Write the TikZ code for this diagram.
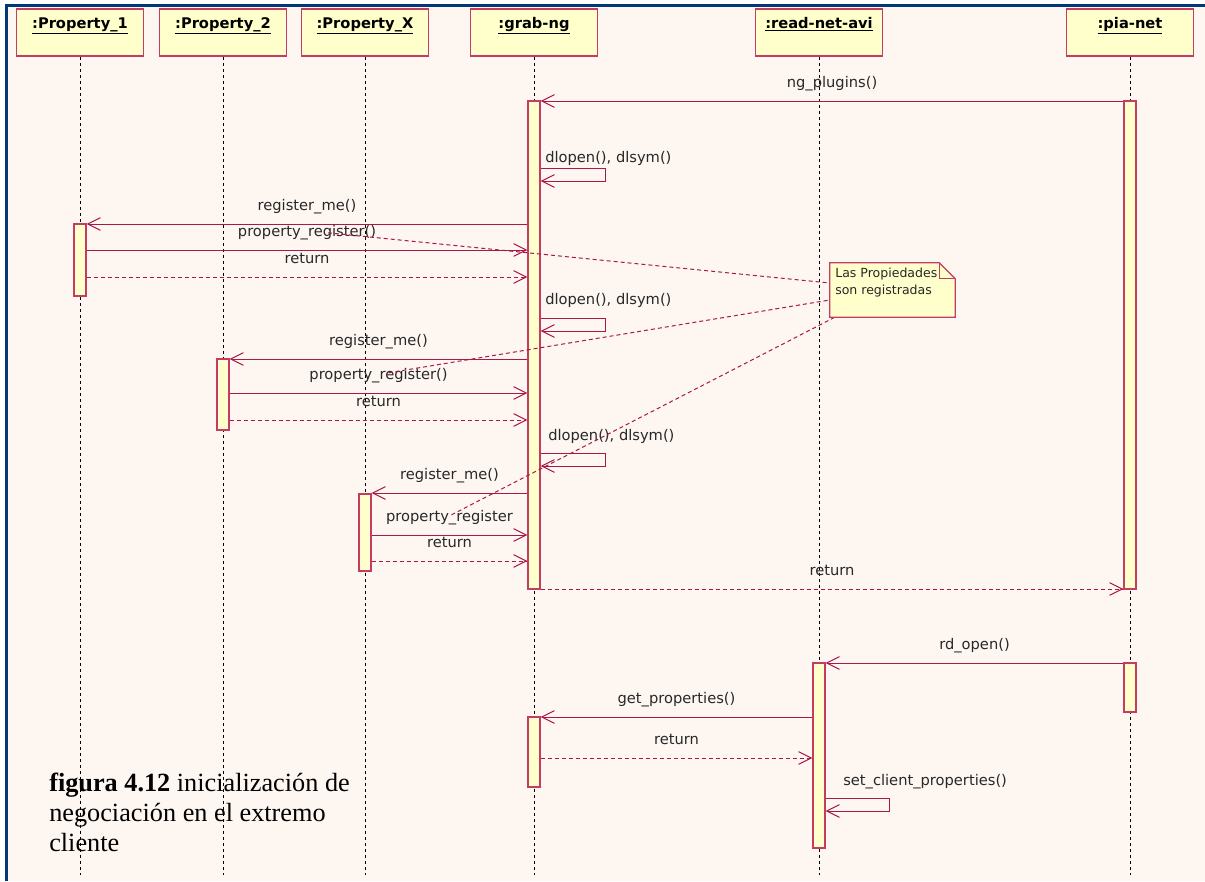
\documentclass[tikz,border=0pt]{standalone}
\usepackage{fontspec}
\setmainfont{Liberation Serif}
\newfontfamily\umlfont{DejaVu Sans}
\usetikzlibrary{arrows.meta,calc}
\definecolor{bgc}{RGB}{253,246,241}
\definecolor{framec}{RGB}{0,56,120}
\definecolor{boxc}{RGB}{196,60,100}
\definecolor{msgc}{RGB}{168,24,74}
\definecolor{fillc}{RGB}{255,255,204}
\definecolor{txtc}{RGB}{40,40,40}
\begin{document}
\begin{tikzpicture}[x=0.75pt,y=-0.75pt,
  head/.style={draw=boxc, fill=fillc, line width=1.1pt, minimum width=95.25pt,
    inner xsep=0pt, inner ysep=0pt, text height=14.5pt, text depth=20.75pt,
    font=\umlfont\bfseries\fontsize{11}{12}\selectfont},
  lifeline/.style={draw=black, line width=0.75pt, dash pattern=on 2.25pt off 2.25pt},
  actbar/.style={draw=boxc, fill=fillc, line width=1pt, minimum width=9pt, inner sep=0pt},
  tip/.style={-{Straight Barb[length=9.5pt,width=9.5pt]}},
  call/.style={draw=msgc, line width=0.75pt, tip},
  reply/.style={call, dash pattern=on 3pt off 2.25pt},
  mlabel/.style={font=\umlfont\fontsize{11}{12}\selectfont, text=txtc, anchor=base,
    inner sep=0pt, yshift=10pt},
  slabel/.style={font=\umlfont\fontsize{11}{12}\selectfont, text=txtc, anchor=base west,
    inner sep=0pt},
  anchorline/.style={draw=msgc, line width=0.75pt, dash pattern=on 3pt off 2.25pt},
  notebox/.style={draw=boxc, fill=fillc, line width=1pt},
  notetext/.style={font=\umlfont\fontsize{9.4}{12.75}\selectfont, text=txtc, align=left,
    inner sep=0pt, anchor=north west}
]
\useasboundingbox (0,0) rectangle (1205,881);
% canvas and frame
\fill[white] (0,0) rectangle (1205,881);
\fill[bgc] (6,6) rectangle (1205,881);
\draw[framec, line width=2.25pt] (6,881) -- (6,6) -- (1205,6);

% object heads
\node[head] (p1)  at (80,32.5)   {\underline{:Property\_1}};
\node[head] (p2)  at (223,32.5)  {\underline{:Property\_2}};
\node[head] (px)  at (365,32.5)  {\underline{:Property\_X}};
\node[head] (gng) at (534,32.5)  {\underline{:grab-ng}};
\node[head] (rna) at (819,32.5)  {\underline{:read-net-avi}};
\node[head] (pia) at (1130,32.5) {\underline{:pia-net}};

% lifelines
\foreach \h in {p1,p2,px,gng,rna,pia}
  \draw[lifeline] (\h.south) -- (\h.south |- 0,875);

% activation bars
\node[actbar, minimum height=366pt]    (bgA)   at (534,345)   {};
\node[actbar, minimum height=366pt]    (bpiaA) at (1130,345)  {};
\node[actbar, minimum height=54pt]     (bp1)   at (80,260)    {};
\node[actbar, minimum height=53.25pt]  (bp2)   at (223,394.5) {};
\node[actbar, minimum height=57.75pt]  (bpx)   at (365,532.5) {};
\node[actbar, minimum height=138.75pt] (brna)  at (819,755.5) {};
\node[actbar, minimum height=36.75pt]  (bpiaB) at (1130,687.5) {};
\node[actbar, minimum height=52.5pt]   (bgB)   at (534,752)   {};

% plugin loading
\draw[call] (bpiaA.west |- 0,101) -- node[mlabel] (lng) {ng\_plugins()} (bgA.east |- 0,101);
\draw[call] (bgA.east |- 0,168) -- ++(65,0) -- ++(0,13) -- (bgA.east |- 0,181);
\node[slabel] (ldl1) at (545,162) {dlopen(), dlsym()};

% Property_1
\draw[call] (bgA.west |- 0,224) -- node[mlabel] (lrm1) {register\_me()} (bp1.east |- 0,224);
\draw[call] (bp1.east |- 0,250) -- node[mlabel] (lpr1) {property\_register()} (bgA.west |- 0,250);
\draw[reply] (bp1.east |- 0,277) -- node[mlabel] (lrt1) {return} (bgA.west |- 0,277);

% Property_2
\draw[call] (bgA.east |- 0,318) -- ++(65,0) -- ++(0,13) -- (bgA.east |- 0,331);
\node[slabel] (ldl2) at (545,304) {dlopen(), dlsym()};
\draw[call] (bgA.west |- 0,359) -- node[mlabel] (lrm2) {register\_me()} (bp2.east |- 0,359);
\draw[call] (bp2.east |- 0,393) -- node[mlabel] (lpr2) {property\_register()} (bgA.west |- 0,393);
\draw[reply] (bp2.east |- 0,420) -- node[mlabel] (lrt2) {return} (bgA.west |- 0,420);

% Property_X
\draw[call] (bgA.east |- 0,453) -- ++(65,0) -- ++(0,13) -- (bgA.east |- 0,466);
\node[slabel] (ldl3) at (548,440) {dlopen(), dlsym()};
\draw[call] (bgA.west |- 0,493) -- node[mlabel] (lrmx) {register\_me()} (bpx.east |- 0,493);
\draw[call] (bpx.east |- 0,535) -- node[mlabel] (lprx) {property\_register} (bgA.west |- 0,535);
\draw[reply] (bpx.east |- 0,561) -- node[mlabel] (lrtx) {return} (bgA.west |- 0,561);

% back to pia-net
\draw[reply] (bgA.east |- 0,589) -- node[mlabel] (lrtg) {return} (bpiaA.west |- 0,589);

% reader opening
\draw[call] (bpiaB.west |- 0,663) -- node[mlabel] (lrd) {rd\_open()} (brna.east |- 0,663);
\draw[call] (brna.west |- 0,717) -- node[mlabel] (lgp) {get\_properties()} (bgB.east |- 0,717);
\draw[reply] (bgB.east |- 0,758) -- node[mlabel] (lrtr) {return} (brna.west |- 0,758);
\draw[call] (brna.east |- 0,798) -- ++(64,0) -- ++(0,13) -- (brna.east |- 0,811);
\node[slabel] (lscp) at (843,785) {set\_client\_properties()};

% note and its anchors
\node[minimum width=93.75pt, minimum height=40.5pt, inner sep=0pt] (note) at (892.5,290) {};
\draw[anchorline] ($(lpr1.center)+(21,0)$) -- ($(note.west)+(0,-7)$);
\draw[anchorline] ($(lpr2.center)+(10,-3)$) -- ($(note.west)+(0,10)$);
\draw[anchorline] ($(lprx.center)+(2,-3)$) -- ($(note.south west)+(5,0)$);
\draw[notebox] (note.north west) -- ([xshift=-12pt]note.north east)
  -- ([yshift=-12pt]note.north east) -- (note.south east) -- (note.south west) -- cycle;
\draw[draw=boxc, line width=1pt] ([xshift=-12pt]note.north east) |- ([yshift=-12pt]note.north east);
\node[notetext] (notetxt) at (835,267.5) {Las Propiedades\\son registradas};

% caption
\node[anchor=north west, inner sep=0pt, align=left, font=\fontsize{19.7}{22.5}\selectfont]
  (caption) at (49,773) {\textbf{figura 4.12} inicialización de\\negociación en el extremo\\cliente};
\end{tikzpicture}
\end{document}
